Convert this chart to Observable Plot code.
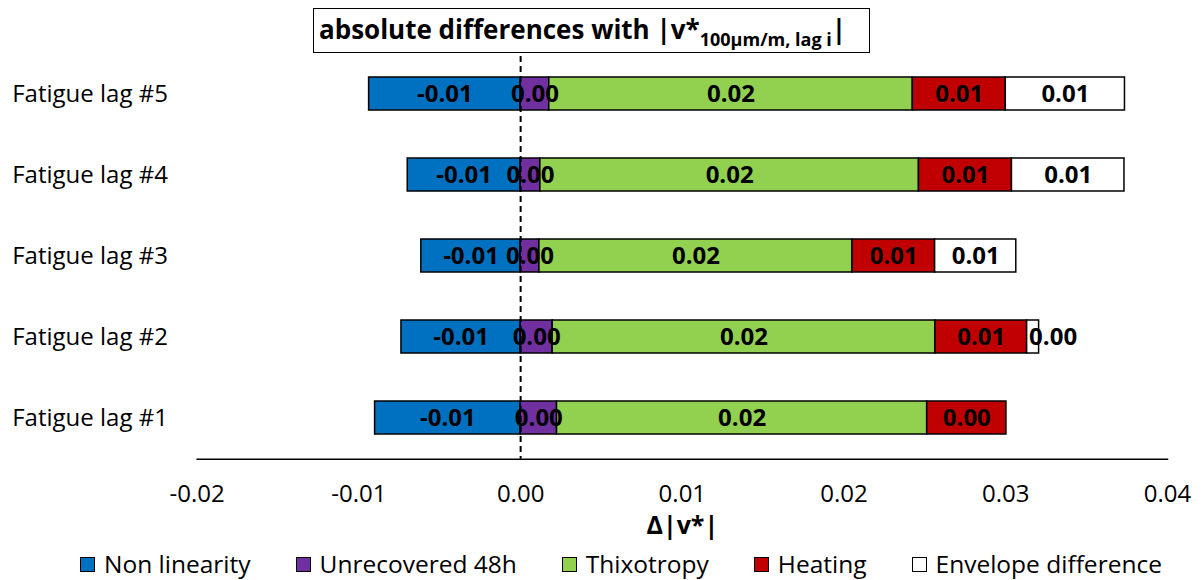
<!DOCTYPE html>
<html><head><meta charset="utf-8">
<script src="https://cdn.jsdelivr.net/npm/d3@7"></script>
<script src="https://cdn.jsdelivr.net/npm/@observablehq/plot@0.6"></script>
<style>
body{margin:0;background:#fff;font-family:"Open Sans",sans-serif;width:1203px;height:580px;overflow:hidden;color:#000}
#title{position:relative;height:56px}
#title .box{position:absolute;left:313px;top:8px;width:557px;height:45px;box-sizing:border-box;border:1.5px solid #000;background:#fff;font-weight:bold;font-size:26px;line-height:40px;padding-left:5px;white-space:nowrap}
#title sub{font-size:18px;vertical-align:-7px;line-height:0}
#legend{display:flex;align-items:center;margin-left:80px;margin-top:15px;font-size:24.5px;line-height:26px;white-space:nowrap}
#legend .item{display:flex;align-items:center;margin-right:45px}
#legend .sw{width:15px;height:15px;box-sizing:border-box;border:1.5px solid #000;margin-right:9px}
</style>
</head><body>
<div id="title"><div class="box">absolute differences with |v*<sub>100µm/m, lag i</sub>|</div></div>
<div id="chart"></div>
<div id="legend"></div>
<script>
const lags = ["Fatigue lag #5","Fatigue lag #4","Fatigue lag #3","Fatigue lag #2","Fatigue lag #1"];
const seriesNames = ["Non linearity","Unrecovered 48h","Thixotropy","Heating","Envelope difference"];
const seriesColors = ["#0070C0","#7030A0","#92D050","#C00000","#FFFFFF"];
const nonLinearity   = [-0.00937,-0.00698,-0.00614,-0.00737,-0.00900];
const unrecovered48h = [ 0.00177, 0.00122, 0.00116, 0.00198, 0.00225];
const thixotropy     = [ 0.02248, 0.02341, 0.01936, 0.02367, 0.02289];
const heating        = [ 0.00575, 0.00575, 0.00511, 0.00567, 0.00490];
const envelopeDiff   = [ 0.00737, 0.00696, 0.00502, 0.00074, 0];
const xTicks = [-0.02,-0.01,0,0.01,0.02,0.03,0.04];
const xLabel = "Δ|v*|";

const seriesValues = [nonLinearity, unrecovered48h, thixotropy, heating, envelopeDiff];
const table = [];
seriesNames.forEach((s, si) => lags.forEach((lag, li) => table.push({lag, series: s, value: seriesValues[si][li]})));

// a narrow last segment gets its label pushed just outside the bar end
const isNarrowEnd = d => d.series === "Envelope difference" && d.value > 0 && d.value < 0.002;
const fmt = d => d.value.toFixed(2);
const labelOpts = {x: "value", y: "lag", z: "series", fontWeight: "bold", fontSize: 24, fill: "#000"};

const chart = Plot.plot({
  width: 1203, height: 480,
  marginLeft: 196.7, marginRight: 36, marginTop: 0, marginBottom: 77.3,
  x: {domain: [-0.02, 0.04]},
  y: {domain: lags, paddingInner: 0.593, paddingOuter: 0.282, align: 0.47},
  color: {domain: seriesNames, range: seriesColors},
  style: {fontFamily: "Open Sans", fontSize: "24px", color: "#000", background: "#fff", overflow: "visible"},
  marks: [
    Plot.barX(table, Plot.stackX({x: "value", y: "lag", fill: "series", stroke: "#000", strokeWidth: 1.5})),
    Plot.ruleX([0], {stroke: "#000", strokeWidth: 2, strokeDasharray: "6,4"}),
    Plot.text(table, Plot.stackX({...labelOpts, text: d => (d.value !== 0 && !isNarrowEnd(d)) ? fmt(d) : ""})),
    Plot.text(table, Plot.stackX({...labelOpts, text: d => isNarrowEnd(d) ? fmt(d) : "", dx: 20})),
    Plot.frame({anchor: "bottom", stroke: "#000", strokeWidth: 1.5}),
    Plot.axisX({ticks: xTicks, tickSize: 0, tickPadding: 26, tickFormat: d => d.toFixed(2), fontSize: 24, label: null}),
    Plot.axisY({tickSize: 0, tickPadding: 185, textAnchor: "start", fontSize: 24, label: null}),
    Plot.text([xLabel], {text: d => d, frameAnchor: "bottom", dy: 67, lineAnchor: "middle", fontWeight: "bold", fontSize: 25, fill: "#000"})
  ]
});
document.getElementById("chart").append(chart);

const legend = document.getElementById("legend");
seriesNames.forEach((s, i) => {
  const it = document.createElement("div"); it.className = "item";
  const sw = document.createElement("div"); sw.className = "sw"; sw.style.background = seriesColors[i];
  const tx = document.createElement("span"); tx.textContent = s;
  it.append(sw, tx); legend.append(it);
});
</script>
</body></html>
